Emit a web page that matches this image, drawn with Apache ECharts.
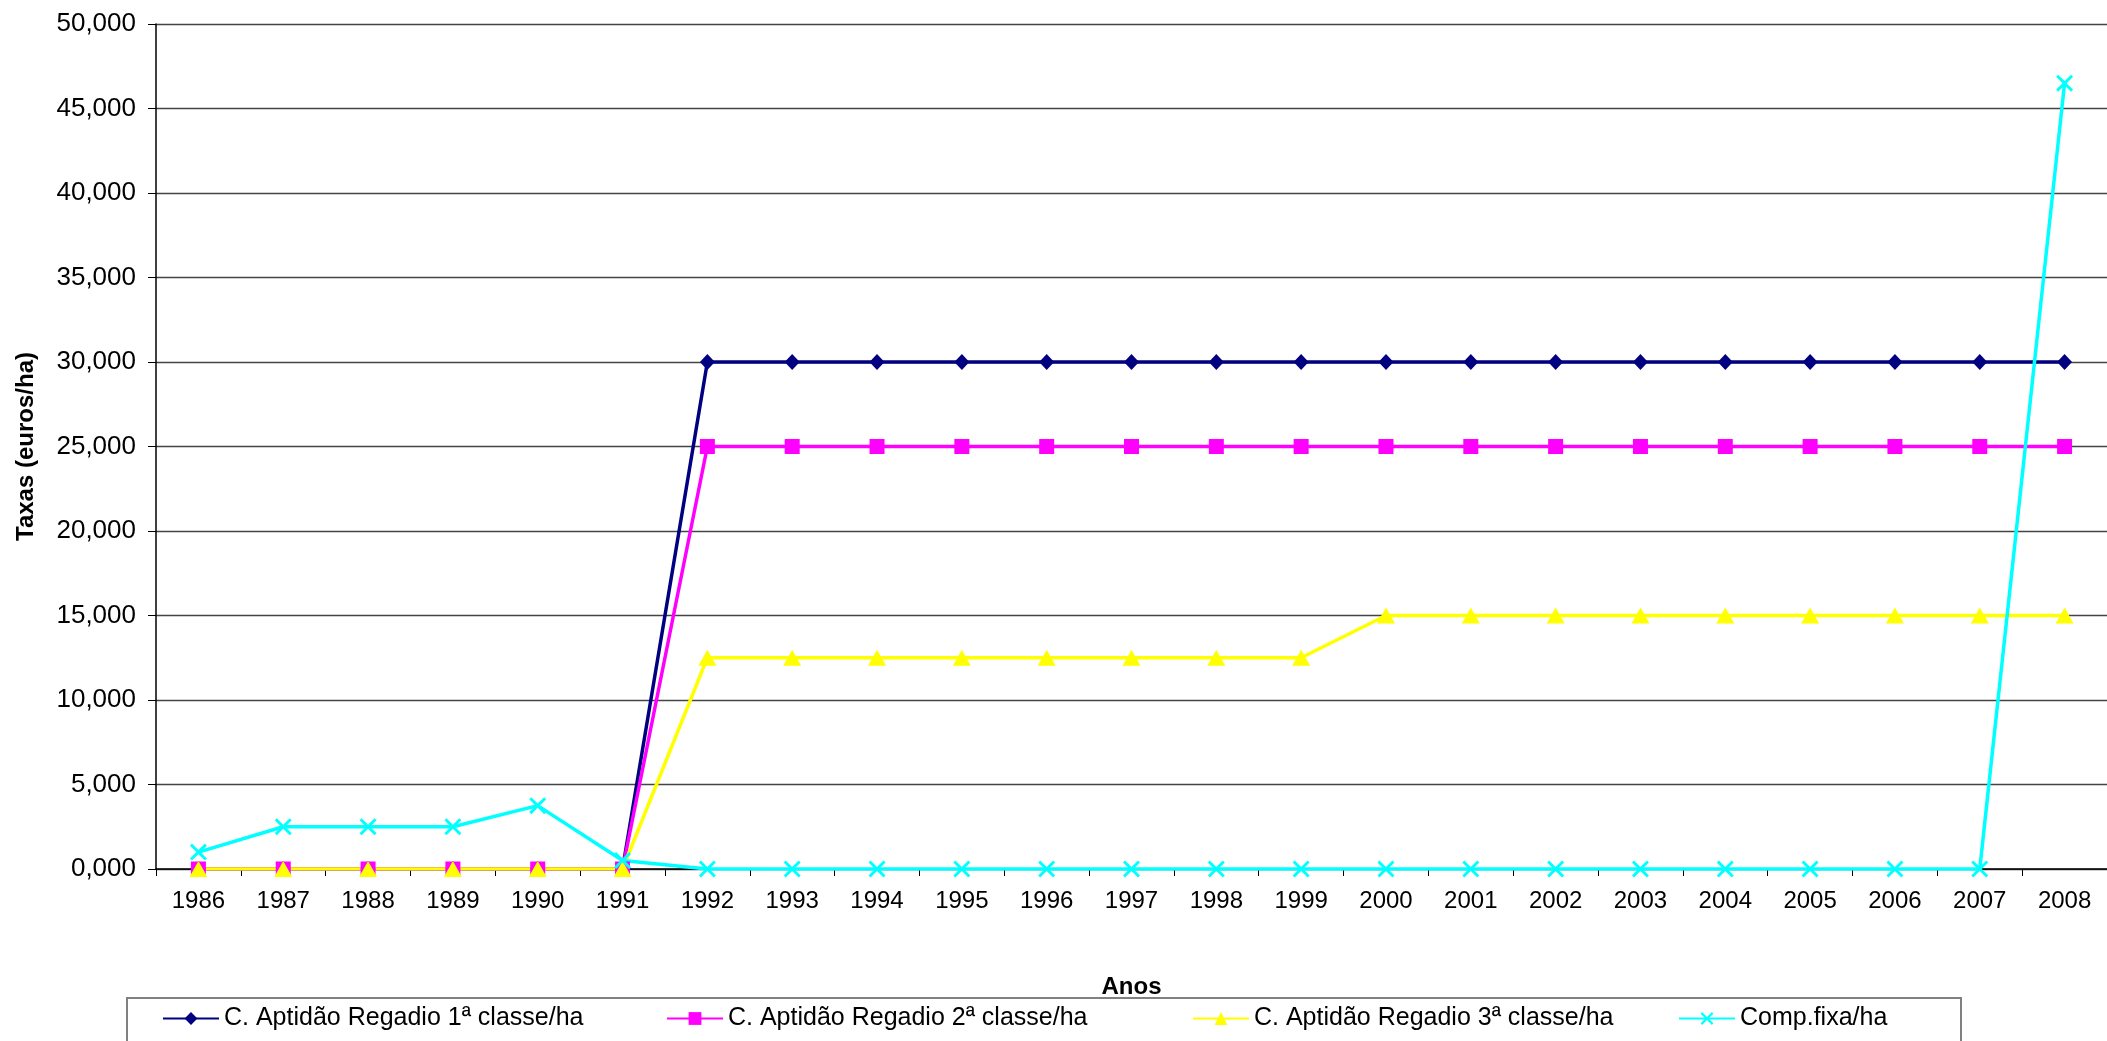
<!DOCTYPE html>
<html><head><meta charset="utf-8">
<script src="https://cdn.jsdelivr.net/npm/echarts@6/dist/echarts.min.js"></script>
<style>html,body{margin:0;padding:0;background:#fff}#c{width:2107px;height:1041px}</style>
</head><body><div id="c"></div>
<script>
const years = ['1986','1987','1988','1989','1990','1991','1992','1993','1994','1995','1996','1997','1998','1999','2000','2001','2002','2003','2004','2005','2006','2007','2008'];
const classe1 = [0,0,0,0,0,0,30,30,30,30,30,30,30,30,30,30,30,30,30,30,30,30,30];
const classe2 = [0,0,0,0,0,0,25,25,25,25,25,25,25,25,25,25,25,25,25,25,25,25,25];
const classe3 = [0,0,0,0,0,0,12.5,12.5,12.5,12.5,12.5,12.5,12.5,12.5,15,15,15,15,15,15,15,15,15];
const compFixa = [1,2.5,2.5,2.5,3.75,0.5,0,0,0,0,0,0,0,0,0,0,0,0,0,0,0,0,46.5];
const seriesNames = ['C. Aptidão Regadio 1ª classe/ha','C. Aptidão Regadio 2ª classe/ha','C. Aptidão Regadio 3ª classe/ha','Comp.fixa/ha'];

const FONT = '"Liberation Sans", Arial, sans-serif';
const xPath = 'path://M0,1.2 L1.2,0 L5,3.8 L8.8,0 L10,1.2 L6.2,5 L10,8.8 L8.8,10 L5,6.2 L1.2,10 L0,8.8 L3.8,5 Z';
const chart = echarts.init(document.getElementById('c'), null, {renderer:'canvas'});
function mk(name, data, color, symbol, size){
  return {name, type:'line', data, symbol, symbolSize:size, showAllSymbol:true,
    lineStyle:{color, width:3.5}, itemStyle:{color, borderColor:color, borderWidth:0},
    emphasis:{disabled:true}};
}
const legendLefts = [162, 666, 1192, 1678];
chart.setOption({
  animation:false,
  textStyle:{fontFamily:FONT},
  grid:{left:156, top:24, right:0, bottom:172, containLabel:false},
  graphic:[{type:'rect', shape:{x:127, y:998, width:1834, height:60}, style:{fill:'#fff', stroke:'#808080', lineWidth:2}, z:-1}],
  legend: seriesNames.map((n,i)=>({left:legendLefts[i], top:1006, itemWidth:56, itemHeight:16, itemGap:6,
    textStyle:{fontFamily:FONT, fontSize:25, color:'#000'}, padding:0, data:[n]})),
  xAxis:{type:'category', data:years, boundaryGap:true,
    name:'Anos', nameLocation:'middle', nameGap:106,
    nameTextStyle:{fontFamily:FONT, fontSize:24, fontWeight:'bold', color:'#000'},
    axisLine:{lineStyle:{color:'#000', width:1.5}},
    axisTick:{show:true, length:7, lineStyle:{color:'#000'}},
    axisLabel:{fontFamily:FONT, fontSize:24, color:'#000', margin:20, interval:0},
    splitLine:{show:false}},
  yAxis:{type:'value', min:0, max:50, interval:5,
    name:'Taxas (euros/ha)', nameLocation:'middle', nameGap:118,
    nameTextStyle:{fontFamily:FONT, fontSize:24, fontWeight:'bold', color:'#000'},
    axisLine:{show:true, lineStyle:{color:'#000', width:1.5}},
    axisTick:{show:true, length:8, lineStyle:{color:'#000'}},
    axisLabel:{fontFamily:FONT, fontSize:26, color:'#000', margin:20,
      formatter:v=>v.toFixed(3).replace('.',',')},
    splitLine:{show:true, lineStyle:{color:'#444', width:1.3}}},
  series:[
    mk(seriesNames[0], classe1, '#000080', 'diamond', [15,16]),
    mk(seriesNames[1], classe2, '#FF00FF', 'rect', 15),
    mk(seriesNames[2], classe3, '#FFFF00', 'triangle', [18,16]),
    mk(seriesNames[3], compFixa, '#00FFFF', xPath, 17)
  ]
});
</script></body></html>
